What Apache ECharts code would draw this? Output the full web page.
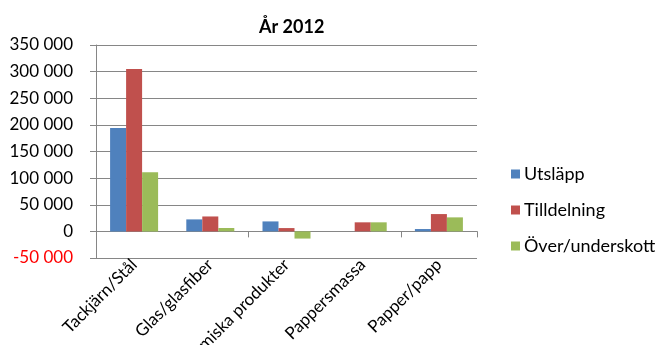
<!DOCTYPE html>
<html>
<head>
<meta charset="utf-8">
<script src="https://cdn.jsdelivr.net/npm/echarts@6/dist/echarts.min.js"></script>
<style>
  html, body { margin: 0; padding: 0; background: #fff; }
  #chart { width: 664px; height: 345px; }
</style>
</head>
<body>
<div id="chart"></div>
<script>
// Emissions vs. allocation per industry, year 2012
const categories = ['Tackjärn/Stål', 'Glas/glasfiber', 'Kemiska produkter', 'Pappersmassa', 'Papper/papp'];
const utslapp = [194000, 22500, 18700, 0, 4400];
const tilldelning = [305000, 28000, 6200, 17000, 32500];
const overUnderskott = [111000, 6300, -13500, 17000, 26300];
const yMin = -50000, yMax = 350000, yStep = 50000;

const FONT = 'Lato, "Open Sans", sans-serif';
const AXIS_GRAY = '#868686';

function fmt(v) {
  const s = String(Math.abs(v)).replace(/\B(?=(\d{3})+(?!\d))/g, ' ');
  return (v < 0 ? '-' : '') + s;
}

const chart = echarts.init(document.getElementById('chart'), null, { renderer: 'canvas' });
chart.setOption({
  animation: false,
  backgroundColor: '#fff',
  title: {
    text: 'År 2012',
    left: 254, top: 13,
    textStyle: { fontFamily: FONT, fontSize: 18, fontWeight: 'bold', color: '#000' }
  },
  legend: {
    orient: 'vertical',
    left: 506, top: 160,
    itemWidth: 9, itemHeight: 9, itemGap: 18,
    icon: 'rect',
    textStyle: { fontFamily: FONT, fontSize: 18, color: '#000', padding: [0, 0, 0, -1] },
    data: ['Utsläpp', 'Tilldelning', 'Över/underskott']
  },
  grid: { left: 96, right: 187, top: 45, bottom: 87, containLabel: false, outerBoundsMode: 'none' },
  xAxis: [
    {
      type: 'category',
      data: categories,
      position: 'bottom',
      axisLine: { onZero: false, show: false },
      axisTick: { show: false },
      axisLabel: {
        rotate: 45, margin: 4, interval: 0,
        fontFamily: FONT, fontSize: 17, color: '#000'
      }
    },
    {
      type: 'category',
      data: categories,
      position: 'bottom',
      axisLine: { onZero: true, lineStyle: { color: AXIS_GRAY, width: 1 } },
      axisTick: { show: true, length: 6, lineStyle: { color: AXIS_GRAY } },
      axisLabel: { show: false }
    }
  ],
  yAxis: {
    type: 'value',
    min: yMin, max: yMax, interval: yStep,
    axisLine: { show: true, lineStyle: { color: AXIS_GRAY } },
    axisTick: { show: true, length: 6, lineStyle: { color: AXIS_GRAY } },
    splitLine: { show: true, lineStyle: { color: AXIS_GRAY, width: 1 } },
    axisLabel: {
      margin: 23,
      fontFamily: FONT, fontSize: 17,
      formatter: fmt,
      color: function (v) { return Number(v) < 0 ? '#ff0000' : '#000'; }
    }
  },
  series: [
    { name: 'Utsläpp', type: 'bar', data: utslapp, xAxisIndex: 0, barGap: '0%', barCategoryGap: '37%', itemStyle: { color: '#4F81BD' } },
    { name: 'Tilldelning', type: 'bar', data: tilldelning, xAxisIndex: 0, barGap: '0%', barCategoryGap: '37%', itemStyle: { color: '#C0504D' } },
    { name: 'Över/underskott', type: 'bar', data: overUnderskott, xAxisIndex: 0, barGap: '0%', barCategoryGap: '37%', itemStyle: { color: '#9BBB59' } }
  ]
});
</script>
</body>
</html>
